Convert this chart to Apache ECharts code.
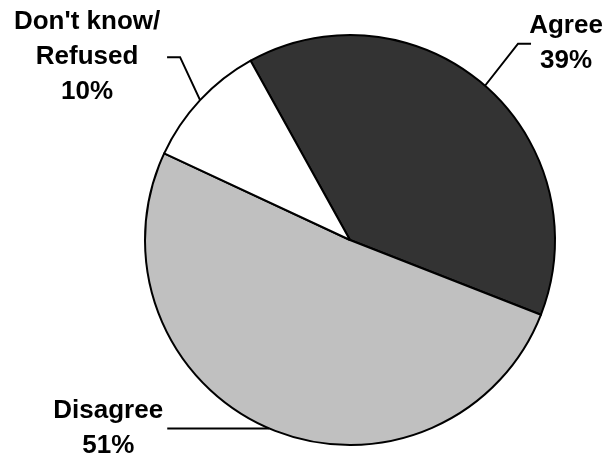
<!DOCTYPE html>
<html>
<head>
<meta charset="utf-8">
<script src="https://cdn.jsdelivr.net/npm/echarts@6/dist/echarts.min.js"></script>
<style>
  html, body { margin: 0; padding: 0; background: #fff; }
  #chart { width: 612px; height: 459px; }
</style>
</head>
<body>
<div id="chart"></div>
<script>
// Survey responses (percent)
const categories = ['Agree', 'Disagree', "Don't know/\nRefused"];
const shares = [39, 51, 10];
const sliceColors = ['#333333', '#c0c0c0', '#ffffff'];

// Leader-line bends and label centres, as offsets from each slice's edge anchor
const leaderOffsets = [
  { line: [[33, -42], [46, -42]], label: [81, -42] },
  { line: [[-102, 0]], label: [-161, 0] },
  { line: [[-20, -43], [-33, -43]], label: [-113, -43] }
];

const chart = echarts.init(document.getElementById('chart'), null, { renderer: 'canvas' });

chart.setOption({
  backgroundColor: '#ffffff',
  animation: false,
  series: [{
    type: 'pie',
    center: [350, 240],
    radius: 205,
    startAngle: 119,
    clockwise: true,
    avoidLabelOverlap: false,
    data: categories.map((name, i) => ({
      name,
      value: shares[i],
      itemStyle: { color: sliceColors[i] }
    })),
    itemStyle: { borderColor: '#000000', borderWidth: 2 },
    emphasis: { disabled: true },
    label: {
      show: true,
      position: 'outside',
      formatter: p => p.name + '\n' + p.value + '%',
      fontFamily: 'Liberation Sans, Arial, sans-serif',
      fontWeight: 'bold',
      fontSize: 26,
      lineHeight: 35,
      color: '#000000',
      align: 'center'
    },
    labelLine: {
      show: true,
      lineStyle: { color: '#000000', width: 2 }
    },
    labelLayout: function (params) {
      const o = leaderOffsets[params.dataIndex];
      const a = params.labelLinePoints[0];
      const pts = [[a[0], a[1]]].concat(o.line.map(d => [a[0] + d[0], a[1] + d[1]]));
      return {
        x: a[0] + o.label[0],
        y: a[1] + o.label[1],
        align: 'center',
        verticalAlign: 'middle',
        labelLinePoints: pts
      };
    }
  }]
});
</script>
</body>
</html>
